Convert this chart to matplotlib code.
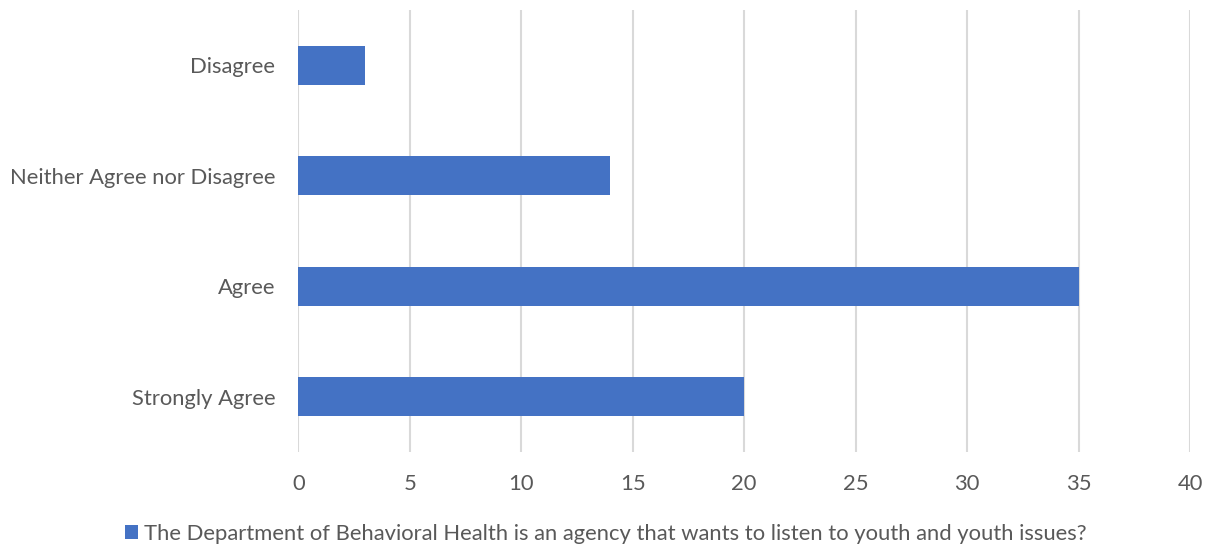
import matplotlib
matplotlib.use("Agg")
import matplotlib.pyplot as plt
from matplotlib.patches import Patch

categories = ["Strongly Agree", "Agree", "Neither Agree nor Disagree", "Disagree"]
counts = [20, 35, 14, 3]
x_ticks = [0, 5, 10, 15, 20, 25, 30, 35, 40]
series_name = ("The Department of Behavioral Health is an agency that wants "
               "to listen to youth and youth issues?")

bar_color = "#4472C4"
text_color = "#595959"
grid_color = "#D9D9D9"
font_size = 15.8

plt.rcParams["font.family"] = ["Lato", "DejaVu Sans"]

fig = plt.figure(figsize=(12.11, 5.48), dpi=100)
ax = fig.add_axes([0.2463, 0.1752, 0.9827 - 0.2463, 0.9818 - 0.1752])

y = list(range(len(categories)))
ax.barh(y, counts, height=0.355, color=bar_color, zorder=3)

ax.set_xlim(0, 40)
ax.set_ylim(-0.5, len(categories) - 0.5)
ax.set_xticks(x_ticks)
ax.set_xticklabels([str(t) for t in x_ticks])
ax.set_yticks(y)
ax.set_yticklabels(categories, va="center_baseline")

ax.xaxis.grid(True, color=grid_color, linewidth=1.5, zorder=0)
ax.yaxis.grid(False)
for s in ax.spines.values():
    s.set_visible(False)
ax.tick_params(axis="both", length=0, labelsize=font_size, labelcolor=text_color)
ax.tick_params(axis="x", pad=15.5)
ax.tick_params(axis="y", pad=16.5)

handle = Patch(facecolor=bar_color, edgecolor="none")
fig.legend([handle], [series_name], loc="center", bbox_to_anchor=(0.5, 1 - 534 / 548),
           frameon=False, fontsize=font_size, labelcolor=text_color,
           handlelength=0.62, handleheight=0.62, handletextpad=0.25)

fig.savefig("out.png", dpi=100)
